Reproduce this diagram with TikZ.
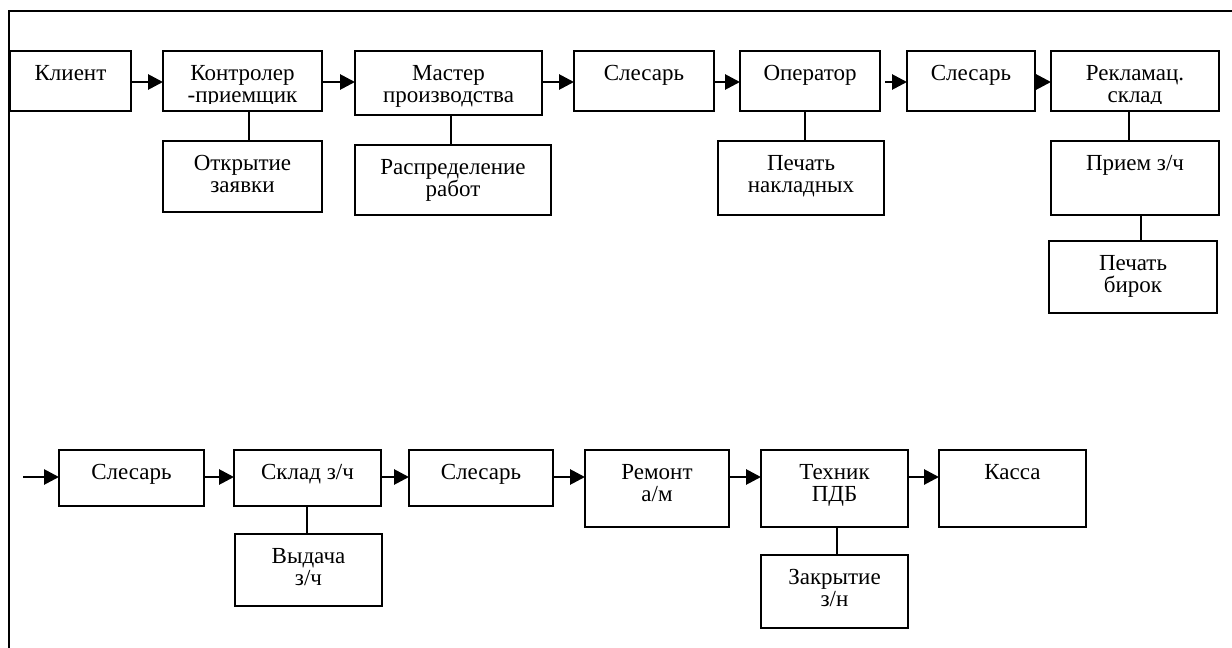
\documentclass[tikz,border=0pt]{standalone}
\usepackage{fontspec}
\setmainfont{Liberation Serif}
\usetikzlibrary{arrows.meta}
\tikzset{
  bx/.style={draw, rectangle, line width=2pt, inner sep=0pt, outer sep=0pt},
  tx/.style={anchor=north, inner sep=0pt, align=center, font=\fontsize{23}{22}\selectfont},
  arr/.style={line width=2.8pt, -{Triangle[length=15pt,width=15pt]}},
  ln/.style={line width=2pt},
  framestyle/.style={line width=2.4pt}
}
% name, x1, y1, x2, y2, text
\newcommand\mkbox[6]{%
  \node[bx, minimum width={(#4-#2)*1pt}, minimum height={(#5-#3)*1pt}] (#1) at ({(#2+#4)/2},{(#3+#5)/2}) {};
  \node[tx] (#1-t) at ({(#2+#4)/2},{#3+11}) {\rule{0pt}{18pt}#6};}
\newcommand\mkclipbox[6]{%
  \node[bx, minimum width={(#4-#2)*1pt}, minimum height={(#5-#3)*1pt}] (#1) at ({(#2+#4)/2},{(#3+#5)/2}) {};
  \begin{scope}
    \clip (#1.north west) rectangle ([yshift=7.5pt]#1.south east);
    \node[tx] (#1-t) at ({(#2+#4)/2},{#3+11}) {\rule{0pt}{18pt}#6};
  \end{scope}}
\begin{document}
\begin{tikzpicture}[x=1pt, y=-1pt]
\useasboundingbox (0,0) rectangle (1232,648);
% frame
\draw[framestyle] (1232,11) -- (9,11) -- (9,648);
% row coordinates
\coordinate (rowA) at (0,82);
\coordinate (rowB) at (0,477);
\coordinate (start) at (23,477);
% top row
\mkbox{kl}{10}{51}{131}{111}{Клиент}
\mkclipbox{kp}{163}{51}{322}{111}{Контролер\\-приемщик}
\mkbox{ms}{355}{51}{542}{115}{Мастер\\производства}
\mkbox{sa}{574}{51}{714}{111}{Слесарь}
\mkbox{op}{740}{51}{880}{111}{Оператор}
\mkbox{sb}{907}{51}{1035}{111}{Слесарь}
\mkclipbox{rs}{1051}{51}{1219}{111}{Рекламац.\\склад}
% sub boxes top
\mkbox{oz}{163}{141}{322}{212}{Открытие\\заявки}
\mkbox{rr}{355}{145}{551}{215}{Распределение\\работ}
\mkbox{pn}{718}{141}{884}{215}{Печать\\накладных}
\mkbox{pz}{1051}{141}{1219}{215}{Прием з/ч}
\mkbox{pb}{1049}{241}{1217}{313}{Печать\\бирок}
% bottom row
\mkbox{ba}{59}{450}{204}{506}{Слесарь}
\mkbox{bs}{234}{450}{381}{506}{Склад з/ч}
\mkbox{vd}{235}{534}{382}{606}{Выдача\\з/ч}
\mkbox{bc}{409}{450}{553}{506}{Слесарь}
\mkbox{rm}{585}{450}{729}{527}{Ремонт\\а/м}
\mkbox{th}{761}{450}{908}{527}{Техник\\ПДБ}
\mkbox{zk}{761}{555}{908}{628}{Закрытие\\з/н}
\mkbox{ks}{939}{450}{1086}{527}{Касса}
% arrows top
\draw[arr] (kl.east |- rowA) -- (kp.west |- rowA);
\draw[arr] (kp.east |- rowA) -- (ms.west |- rowA);
\draw[arr] (ms.east |- rowA) -- (sa.west |- rowA);
\draw[arr] (sa.east |- rowA) -- (op.west |- rowA);
\draw[arr, shorten <=5pt] (op.east |- rowA) -- (sb.west |- rowA);
\draw[arr] (sb.east |- rowA) -- (rs.west |- rowA);
% arrows bottom
\draw[arr] (start) -- (ba.west |- rowB);
\draw[arr] (ba.east |- rowB) -- (bs.west |- rowB);
\draw[arr] (bs.east |- rowB) -- (bc.west |- rowB);
\draw[arr] (bc.east |- rowB) -- (rm.west |- rowB);
\draw[arr] (rm.east |- rowB) -- (th.west |- rowB);
\draw[arr] (th.east |- rowB) -- (ks.west |- rowB);
% vertical connectors
\draw[ln] ([xshift=6pt]oz.north) -- ([xshift=6pt]oz.north |- kp.south);
\draw[ln] ([xshift=-2pt]rr.north) -- ([xshift=-2pt]rr.north |- ms.south);
\draw[ln] ([xshift=4pt]pn.north) -- ([xshift=4pt]pn.north |- op.south);
\draw[ln] ([xshift=-6pt]pz.north) -- ([xshift=-6pt]pz.north |- rs.south);
\draw[ln] ([xshift=8pt]pb.north) -- ([xshift=8pt]pb.north |- pz.south);
\draw[ln] ([xshift=-2pt]vd.north) -- ([xshift=-2pt]vd.north |- bs.south);
\draw[ln] ([xshift=2pt]zk.north) -- ([xshift=2pt]zk.north |- th.south);
\end{tikzpicture}
\end{document}
